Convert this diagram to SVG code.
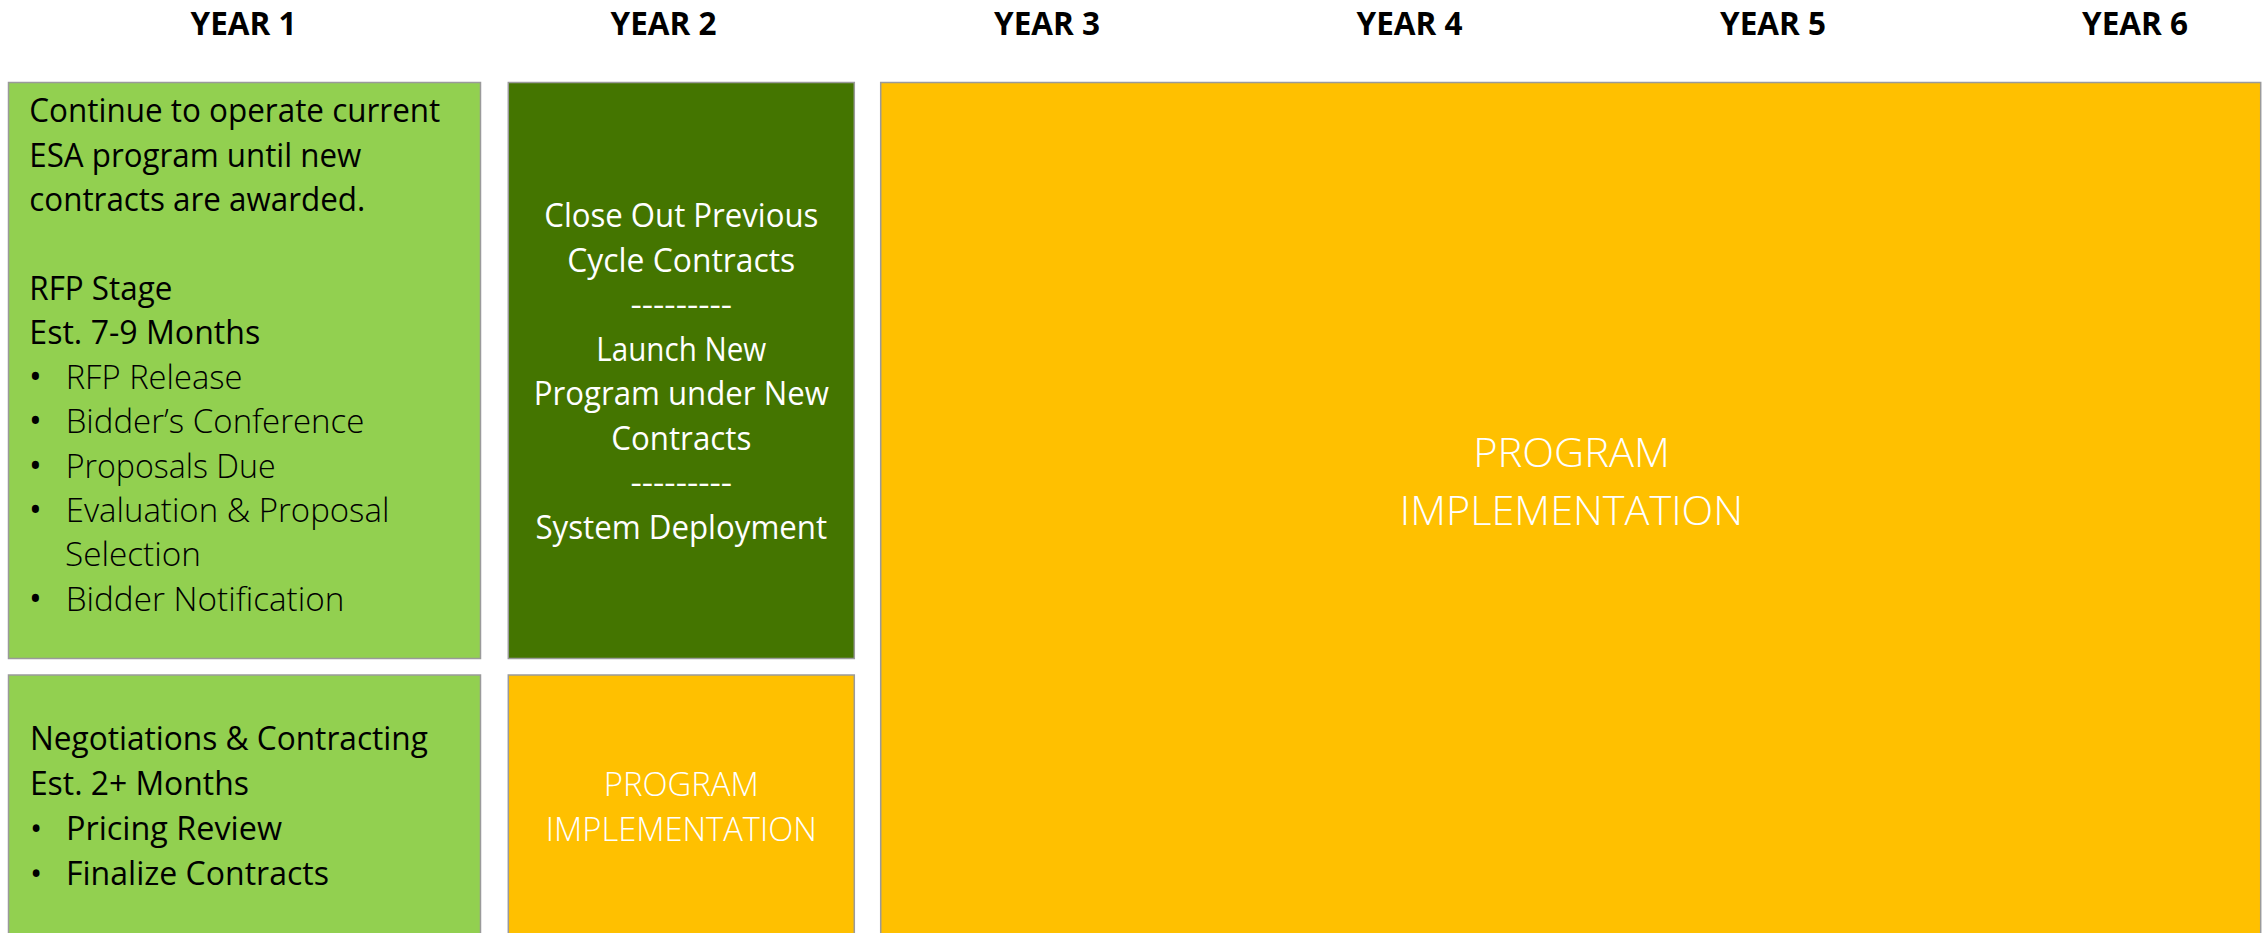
<svg xmlns="http://www.w3.org/2000/svg" width="2262" height="933" viewBox="0 0 2262 933">
  <style>
    .hdr { font-family: "Open Sans", "Liberation Sans", sans-serif; font-weight: 700; font-size: 32px; fill: #000; text-anchor: middle; }
    .box { stroke: #9a9a9a; stroke-width: 1.5; }
    .lgreen { fill: #92D050; }
    .dgreen { fill: #447500; }
    .amber { fill: #FFC000; }
    .t { font-family: "Open Sans", "Liberation Sans", sans-serif; font-size: 32.5px; }
    .dark { fill: #000; }
    .lite { font-weight: 300; }
    .bul { font-weight: 400; font-size: 34px; }
    .white { fill: #fff; }
    .mid { text-anchor: middle; }
  </style>

  <!-- Year headers -->
  <g id="headers">
    <text class="hdr" x="243.5" y="35" textLength="106" lengthAdjust="spacingAndGlyphs">YEAR 1</text>
    <text class="hdr" x="663.5" y="35" textLength="106" lengthAdjust="spacingAndGlyphs">YEAR 2</text>
    <text class="hdr" x="1047" y="35" textLength="106" lengthAdjust="spacingAndGlyphs">YEAR 3</text>
    <text class="hdr" x="1409.5" y="35" textLength="106" lengthAdjust="spacingAndGlyphs">YEAR 4</text>
    <text class="hdr" x="1773" y="35" textLength="106" lengthAdjust="spacingAndGlyphs">YEAR 5</text>
    <text class="hdr" x="2135" y="35" textLength="106" lengthAdjust="spacingAndGlyphs">YEAR 6</text>
  </g>

  <!-- Year 1: RFP stage -->
  <g id="rfp-stage">
    <rect class="box lgreen" x="8.5" y="82.5" width="472" height="576"/>
    <g class="t dark">
      <text x="29.3" y="122.4" textLength="411" lengthAdjust="spacingAndGlyphs">Continue to operate current</text>
      <text x="29.3" y="166.8" textLength="332" lengthAdjust="spacingAndGlyphs">ESA program until new</text>
      <text x="29.3" y="211.2" textLength="336" lengthAdjust="spacingAndGlyphs">contracts are awarded.</text>
      <text x="29.3" y="300" textLength="143" lengthAdjust="spacingAndGlyphs">RFP Stage</text>
      <text x="29.3" y="344.4" textLength="231" lengthAdjust="spacingAndGlyphs">Est. 7-9 Months</text>
    </g>
    <g class="t dark bul">
      <text x="29" y="388.8">•</text>
      <text x="29" y="433.2">•</text>
      <text x="29" y="477.6">•</text>
      <text x="29" y="522">•</text>
      <text x="29" y="610.8">•</text>
    </g>
    <g class="t dark lite">
      <text x="65.7" y="388.8" textLength="176.7" lengthAdjust="spacingAndGlyphs">RFP Release</text>
      <text x="65.7" y="433.2" textLength="298.7" lengthAdjust="spacingAndGlyphs">Bidder’s Conference</text>
      <text x="65.7" y="477.6" textLength="210" lengthAdjust="spacingAndGlyphs">Proposals Due</text>
      <text x="65.7" y="522" textLength="323.7" lengthAdjust="spacingAndGlyphs">Evaluation &amp; Proposal</text>
      <text x="65" y="566.4" textLength="136" lengthAdjust="spacingAndGlyphs">Selection</text>
      <text x="65.7" y="610.8" textLength="278.7" lengthAdjust="spacingAndGlyphs">Bidder Notification</text>
    </g>
  </g>

  <!-- Year 2: launch -->
  <g id="launch">
    <rect class="box dgreen" x="508.3" y="82.5" width="346" height="576"/>
    <g class="t white mid">
      <text x="681.3" y="227" textLength="274" lengthAdjust="spacingAndGlyphs">Close Out Previous</text>
      <text x="681.3" y="271.5" textLength="228" lengthAdjust="spacingAndGlyphs">Cycle Contracts</text>
      <text x="681.3" y="316" textLength="101.7" lengthAdjust="spacingAndGlyphs">---------</text>
      <text x="681.3" y="360.5" textLength="170" lengthAdjust="spacingAndGlyphs">Launch New</text>
      <text x="681.3" y="405" textLength="295" lengthAdjust="spacingAndGlyphs">Program under New</text>
      <text x="681.3" y="449.5" textLength="140" lengthAdjust="spacingAndGlyphs">Contracts</text>
      <text x="681.3" y="494" textLength="101.7" lengthAdjust="spacingAndGlyphs">---------</text>
      <text x="681.3" y="538.5" textLength="291.7" lengthAdjust="spacingAndGlyphs">System Deployment</text>
    </g>
  </g>

  <!-- Year 1: negotiations -->
  <g id="negotiations">
    <rect class="box lgreen" x="8.5" y="675" width="472" height="270"/>
    <g class="t dark">
      <text x="29.9" y="750" textLength="398" lengthAdjust="spacingAndGlyphs">Negotiations &amp; Contracting</text>
      <text x="29.9" y="795" textLength="219" lengthAdjust="spacingAndGlyphs">Est. 2+ Months</text>
      <text x="30" y="840">•</text>
      <text x="66" y="840" textLength="216" lengthAdjust="spacingAndGlyphs">Pricing Review</text>
      <text x="30" y="885">•</text>
      <text x="66" y="885" textLength="263" lengthAdjust="spacingAndGlyphs">Finalize Contracts</text>
    </g>
  </g>

  <!-- Year 2: early implementation -->
  <g id="implementation-y2">
    <rect class="box amber" x="508.3" y="675" width="346" height="270"/>
    <g class="t white lite mid">
      <text x="681.3" y="796" textLength="155" lengthAdjust="spacingAndGlyphs">PROGRAM</text>
      <text x="681.3" y="841" textLength="271" lengthAdjust="spacingAndGlyphs">IMPLEMENTATION</text>
    </g>
  </g>

  <!-- Years 3-6: implementation -->
  <g id="implementation">
    <rect class="box amber" x="880.7" y="82.5" width="1380" height="862"/>
    <g class="white lite mid" font-family="Open Sans, Liberation Sans, sans-serif" font-size="40">
      <text x="1571.5" y="466.7" textLength="196.7" lengthAdjust="spacingAndGlyphs">PROGRAM</text>
      <text x="1571.5" y="525" textLength="343.3" lengthAdjust="spacingAndGlyphs">IMPLEMENTATION</text>
    </g>
  </g>

  <!-- No connectors in this layout -->
  <g id="connectors"/>
</svg>
